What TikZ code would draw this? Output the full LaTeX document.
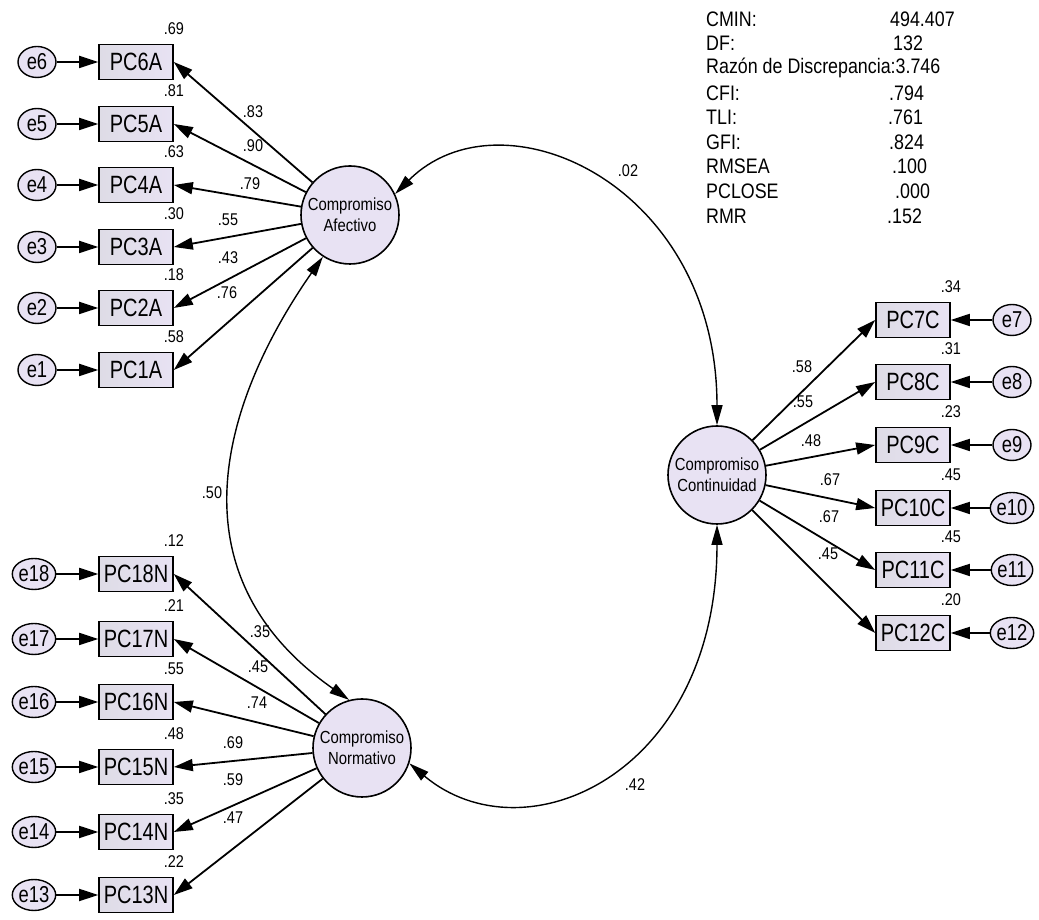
\documentclass[tikz,border=0pt]{standalone}
\usepackage{fontspec}
\setmainfont{Liberation Sans}[FakeStretch=0.85]
\newfontfamily\tallfont{Liberation Sans}[FakeStretch=0.8]
\usetikzlibrary{arrows.meta,shapes.geometric}

\definecolor{lav}{RGB}{232,226,243}
\definecolor{lavgray}{RGB}{222,220,230}

\tikzset{
  item/.style={draw,line width=1.6pt,left color=lavgray,right color=lav,minimum width=74pt,minimum height=35pt,inner sep=0pt,font=\tallfont\fontsize{25}{25}\selectfont},
  err/.style={draw,ellipse,line width=1.4pt,fill=lav,minimum width=38pt,minimum height=31pt,inner sep=0pt,font=\tallfont\fontsize{23}{23}\selectfont},
  factor/.style={draw,circle,line width=1.6pt,fill=lav,minimum size=98pt,inner sep=0pt,align=center,font=\fontsize{17.5}{21}\selectfont},
  reg/.style={line width=1.8pt,-{Triangle[length=19pt,width=12pt]}},
  cov/.style={line width=1.4pt,{Triangle[length=20pt,width=11pt]}-{Triangle[length=20pt,width=11pt]}},
  val/.style={font=\fontsize{17}{17}\selectfont,inner sep=0pt},
  stat/.style={font=\fontsize{21}{21}\selectfont,inner sep=0pt,anchor=west}
}

\begin{document}
\begin{tikzpicture}[x=1pt,y=1pt]
  \useasboundingbox (0,0) rectangle (1039,920);

  % factores
  \node[factor] (Afec) at (350,705) {Compromiso\\Afectivo};
  \node[factor] (Norm) at (362,172) {Compromiso\\Normativo};
  \node[factor] (Cont) at (717,445) {Compromiso\\Continuidad};

  % afectivo
  \foreach \n/\y/\rsq/\ld/\lx/\ly in {6/858/.69/.83/253/808, 5/796/.81/.90/253/774, 4/735/.63/.79/250/736,
      3/673/.30/.55/228/700, 2/612/.18/.43/228/662, 1/550/.58/.76/227/627} {
    \node[item] (PC\n A) at (136,\y) {PC\n A};
    \node[err] (e\n) at (37,\y) {e\n};
    \draw[reg] (e\n) -- (PC\n A);
    \draw[reg] (Afec) -- (PC\n A.east);
    \node[val] (r\n) at ([yshift=15pt]PC\n A.north east) {\rsq};
    \node[val] (l\n) at (\lx,\ly) {\ld};
  }

  % normativo
  \foreach \n/\y/\rsq/\ld/\lx/\ly in {18/346/.12/.35/260/288, 17/281/.21/.45/258/253, 16/218/.55/.74/257/217,
      15/153/.48/.69/233/177, 14/88/.35/.59/233/140, 13/25/.22/.47/233/102} {
    \node[item] (PC\n N) at (136,\y) {PC\n N};
    \node[err] (e\n) at (34,\y) {e\n};
    \draw[reg] (e\n) -- (PC\n N);
    \draw[reg] (Norm) -- (PC\n N.east);
    \node[val] (r\n) at ([yshift=15pt]PC\n N.north east) {\rsq};
    \node[val] (l\n) at (\lx,\ly) {\ld};
  }

  % continuidad
  \foreach \n/\y/\rsq/\ld/\lx/\ly in {7/600/.34/.58/802/553, 8/538/.31/.55/803/518, 9/475/.23/.48/811/479,
      10/412/.45/.67/830/440, 11/350/.45/.67/829/403, 12/287/.20/.45/828/366} {
    \node[item] (PC\n C) at (913,\y) {PC\n C};
    \node[err] (e\n) at (1012,\y) {e\n};
    \draw[reg] (e\n) -- (PC\n C);
    \draw[reg] (Cont) -- (PC\n C.west);
    \node[val] (r\n) at ([yshift=15pt]PC\n C.north east) {\rsq};
    \node[val] (l\n) at (\lx,\ly) {\ld};
  }

  % covarianzas
  \draw[cov] (Afec.25) to[out=45,in=90,out distance=150pt,in distance=242pt] (Cont.north);
  \draw[cov] (Afec.237) to[out=235,in=145,out distance=136pt,in distance=243pt] (Norm.105);
  \draw[cov] (Norm.342) to[out=-40,in=270,out distance=150pt,in distance=250pt] (Cont.south);
  \node[val] (cAC) at (628,749) {.02};
  \node[val] (cAN) at (212,427) {.50};
  \node[val] (cNC) at (635,135) {.42};

  % ajuste
  \node[stat] (s1) at (706,901) {CMIN:};
  \node[stat] (v1) at (890,901) {494.407};
  \node[stat] (s2) at (706,876.4) {DF:};
  \node[stat] (v2) at (893,876.4) {132};
  \node[stat] (s3) at (706,851.8) {Razón de Discrepancia:3.746};
  \node[stat] (s4) at (706,827.2) {CFI:};
  \node[stat] (v4) at (889,827.2) {.794};
  \node[stat] (s5) at (706,802.6) {TLI:};
  \node[stat] (v5) at (888,802.6) {.761};
  \node[stat] (s6) at (706,778) {GFI:};
  \node[stat] (v6) at (889,778) {.824};
  \node[stat] (s7) at (706,753.4) {RMSEA};
  \node[stat] (v7) at (892,753.4) {.100};
  \node[stat] (s8) at (706,728.8) {PCLOSE};
  \node[stat] (v8) at (895,728.8) {.000};
  \node[stat] (s9) at (706,704.2) {RMR};
  \node[stat] (v9) at (887,704.2) {.152};
\end{tikzpicture}
\end{document}
